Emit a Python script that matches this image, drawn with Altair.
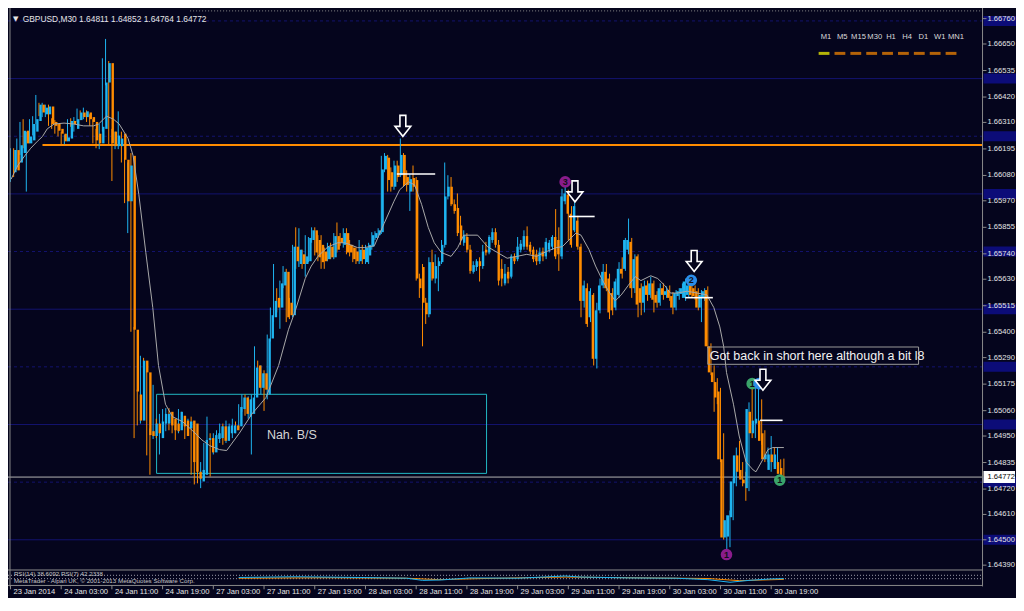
import altair as alt
import pandas as pd

# ---------------- chart values ----------------
opens = [
    1.66094, 1.66190, 1.66136, 1.66177, 1.66274, 1.66219, 1.66232, 1.66270, 1.66316, 1.66387,
    1.66345, 1.66345, 1.66379, 1.66312, 1.66303, 1.66282, 1.66261, 1.66228, 1.66240, 1.66316,
    1.66282, 1.66320, 1.66353, 1.66333, 1.66353, 1.66333, 1.66312, 1.66261, 1.66219, 1.66282,
    1.66483, 1.66567, 1.66270, 1.66207, 1.66207, 1.66261, 1.66148, 1.65968, 1.66165, 1.65411,
    1.65130, 1.65017, 1.65277, 1.65226, 1.64971, 1.64950, 1.65004, 1.64941, 1.65004, 1.65004,
    1.65055, 1.65025, 1.65004, 1.64975, 1.65038, 1.65017, 1.64983, 1.65017, 1.65004, 1.64795,
    1.64753, 1.64782, 1.64933, 1.64941, 1.64879, 1.64937, 1.64941, 1.64992, 1.64929, 1.64962,
    1.64962, 1.64996, 1.64992, 1.65067, 1.65117, 1.65034, 1.65046, 1.65117, 1.65256, 1.65159,
    1.65222, 1.65130, 1.65373, 1.65465, 1.65549, 1.65507, 1.65603, 1.65662, 1.65528, 1.65474,
    1.65771, 1.65696, 1.65738, 1.65696, 1.65708, 1.65800, 1.65842, 1.65800, 1.65779, 1.65750,
    1.65717, 1.65771, 1.65725, 1.65817, 1.65809, 1.65779, 1.65830, 1.65779, 1.65767, 1.65750,
    1.65708, 1.65758, 1.65704, 1.65733, 1.65771, 1.65809, 1.65821, 1.65834, 1.66106, 1.66157,
    1.66094, 1.66031, 1.66123, 1.66081, 1.66169, 1.66073, 1.66010, 1.66069, 1.66060, 1.65633,
    1.65683, 1.65528, 1.65478, 1.65704, 1.65633, 1.65687, 1.65704, 1.65779, 1.65989, 1.66031,
    1.65955, 1.65939, 1.65863, 1.65788, 1.65813, 1.65758, 1.65662, 1.65683, 1.65708, 1.65687,
    1.65758, 1.65746, 1.65800, 1.65834, 1.65779, 1.65675, 1.65612, 1.65662, 1.65641, 1.65729,
    1.65717, 1.65758, 1.65771, 1.65817, 1.65779, 1.65758, 1.65738, 1.65708, 1.65750, 1.65729,
    1.65758, 1.65771, 1.65813, 1.65800, 1.65729, 1.65968, 1.65997, 1.65914, 1.65842, 1.65884,
    1.65771, 1.65536, 1.65591, 1.65465, 1.65562, 1.65285, 1.65495, 1.65603, 1.65662, 1.65633,
    1.65570, 1.65507, 1.65562, 1.65675, 1.65675, 1.65758, 1.65792, 1.65591, 1.65729, 1.65591,
    1.65528, 1.65603, 1.65562, 1.65612, 1.65562, 1.65528, 1.65591, 1.65562, 1.65583, 1.65557,
    1.65507, 1.65557, 1.65566, 1.65549, 1.65562, 1.65612, 1.65591, 1.65578, 1.65507, 1.65549,
    1.65583, 1.65339, 1.65226, 1.65184, 1.65143, 1.64849, 1.64510, 1.64514, 1.64598, 1.64745,
    1.64866, 1.64803, 1.64761, 1.64724, 1.65055, 1.64962, 1.65004, 1.65017, 1.64962, 1.64849,
    1.64803, 1.64870, 1.64807, 1.64837, 1.64811,
]
highs = [
    1.66198, 1.66198, 1.66240, 1.66312, 1.66324, 1.66270, 1.66324, 1.66337, 1.66429, 1.66395,
    1.66395, 1.66387, 1.66387, 1.66328, 1.66320, 1.66303, 1.66270, 1.66257, 1.66324, 1.66328,
    1.66333, 1.66370, 1.66362, 1.66374, 1.66362, 1.66345, 1.66324, 1.66282, 1.66303, 1.66588,
    1.66672, 1.66576, 1.66282, 1.66270, 1.66358, 1.66270, 1.66157, 1.66136, 1.66177, 1.65423,
    1.65151, 1.65298, 1.65289, 1.65235, 1.64983, 1.65172, 1.65025, 1.65046, 1.65067, 1.65071,
    1.65071, 1.65046, 1.65013, 1.65067, 1.65055, 1.65029, 1.65025, 1.65034, 1.65013, 1.64812,
    1.64837, 1.64920, 1.65034, 1.64962, 1.64962, 1.64975, 1.65004, 1.65004, 1.65017, 1.65004,
    1.65025, 1.65013, 1.65088, 1.65130, 1.65130, 1.65122, 1.65130, 1.65339, 1.65277, 1.65256,
    1.65235, 1.65390, 1.65507, 1.65696, 1.65591, 1.65624, 1.65687, 1.65675, 1.65549, 1.65779,
    1.65855, 1.65851, 1.65758, 1.65821, 1.65813, 1.65855, 1.65855, 1.65821, 1.65821, 1.65767,
    1.65788, 1.65788, 1.65830, 1.65876, 1.65830, 1.65851, 1.65851, 1.65800, 1.65779, 1.65767,
    1.65800, 1.65779, 1.65779, 1.65788, 1.65834, 1.65838, 1.65851, 1.66165, 1.66177, 1.66169,
    1.66115, 1.66144, 1.66144, 1.66240, 1.66177, 1.66102, 1.66085, 1.66123, 1.66073, 1.65654,
    1.65696, 1.65549, 1.65725, 1.65758, 1.65738, 1.65725, 1.65800, 1.66136, 1.66081, 1.66073,
    1.65976, 1.66002, 1.65905, 1.65842, 1.65830, 1.65779, 1.65708, 1.65717, 1.65725, 1.65779,
    1.65792, 1.65821, 1.65851, 1.65851, 1.65800, 1.65717, 1.65696, 1.65683, 1.65738, 1.65742,
    1.65813, 1.65800, 1.65842, 1.65859, 1.65792, 1.65771, 1.65758, 1.65767, 1.65767, 1.65809,
    1.65800, 1.65821, 1.65934, 1.65855, 1.66022, 1.66031, 1.66018, 1.65947, 1.65976, 1.65905,
    1.65784, 1.65624, 1.65612, 1.65591, 1.65570, 1.65528, 1.65633, 1.65696, 1.65696, 1.65654,
    1.65591, 1.65633, 1.65704, 1.65725, 1.65809, 1.65893, 1.65809, 1.65738, 1.65738, 1.65612,
    1.65624, 1.65624, 1.65641, 1.65624, 1.65578, 1.65612, 1.65612, 1.65599, 1.65603, 1.65574,
    1.65583, 1.65591, 1.65612, 1.65633, 1.65633, 1.65633, 1.65603, 1.65591, 1.65583, 1.65591,
    1.65599, 1.65352, 1.65256, 1.65201, 1.65159, 1.64962, 1.64606, 1.64627, 1.64765, 1.64900,
    1.64929, 1.64837, 1.64795, 1.65096, 1.65172, 1.65172, 1.65164, 1.65109, 1.64975, 1.64900,
    1.64950, 1.64900, 1.64900, 1.64849, 1.64852,
]
lows = [
    1.66052, 1.66073, 1.66115, 1.66169, 1.66198, 1.66010, 1.66219, 1.66253, 1.66303, 1.66337,
    1.66333, 1.66333, 1.66295, 1.66282, 1.66261, 1.66249, 1.66215, 1.66215, 1.66228, 1.66291,
    1.66270, 1.66312, 1.66320, 1.66324, 1.66312, 1.66295, 1.66219, 1.66198, 1.66194, 1.66270,
    1.66471, 1.66211, 1.66056, 1.66194, 1.66194, 1.66136, 1.65960, 1.65830, 1.65402, 1.64941,
    1.64996, 1.65004, 1.65214, 1.64866, 1.64782, 1.64937, 1.64941, 1.64870, 1.64983, 1.64971,
    1.64975, 1.64962, 1.64933, 1.64962, 1.64979, 1.64937, 1.64971, 1.64782, 1.64740, 1.64745,
    1.64724, 1.64774, 1.64900, 1.64774, 1.64870, 1.64929, 1.64920, 1.64912, 1.64920, 1.64941,
    1.64941, 1.64962, 1.64983, 1.65055, 1.65038, 1.65025, 1.64870, 1.65109, 1.65130, 1.65130,
    1.65059, 1.65109, 1.65360, 1.65444, 1.65486, 1.65415, 1.65591, 1.65444, 1.65457, 1.65465,
    1.65675, 1.65683, 1.65675, 1.65641, 1.65704, 1.65788, 1.65733, 1.65708, 1.65675, 1.65675,
    1.65708, 1.65717, 1.65717, 1.65746, 1.65775, 1.65767, 1.65738, 1.65729, 1.65704, 1.65696,
    1.65696, 1.65696, 1.65696, 1.65696, 1.65758, 1.65800, 1.65809, 1.65826, 1.66094, 1.66010,
    1.66010, 1.66018, 1.66052, 1.66073, 1.66031, 1.66010, 1.65926, 1.66010, 1.65624, 1.65549,
    1.65339, 1.65436, 1.65465, 1.65624, 1.65612, 1.65578, 1.65696, 1.65767, 1.65976, 1.65947,
    1.65914, 1.65817, 1.65779, 1.65775, 1.65746, 1.65654, 1.65654, 1.65666, 1.65620, 1.65675,
    1.65733, 1.65738, 1.65788, 1.65767, 1.65603, 1.65599, 1.65603, 1.65612, 1.65633, 1.65696,
    1.65708, 1.65746, 1.65758, 1.65758, 1.65738, 1.65704, 1.65691, 1.65696, 1.65708, 1.65717,
    1.65746, 1.65758, 1.65717, 1.65666, 1.65717, 1.65955, 1.65800, 1.65767, 1.65834, 1.65758,
    1.65465, 1.65507, 1.65423, 1.65444, 1.65256, 1.65243, 1.65482, 1.65591, 1.65578, 1.65457,
    1.65474, 1.65495, 1.65549, 1.65633, 1.65666, 1.65738, 1.65549, 1.65570, 1.65465, 1.65474,
    1.65486, 1.65536, 1.65549, 1.65486, 1.65507, 1.65515, 1.65541, 1.65549, 1.65536, 1.65478,
    1.65495, 1.65541, 1.65549, 1.65536, 1.65549, 1.65549, 1.65541, 1.65495, 1.65444, 1.65536,
    1.65331, 1.65214, 1.65055, 1.65088, 1.64837, 1.64501, 1.64447, 1.64468, 1.64585, 1.64732,
    1.64774, 1.64732, 1.64669, 1.64711, 1.64941, 1.64941, 1.64962, 1.64912, 1.64837, 1.64837,
    1.64795, 1.64816, 1.64795, 1.64765, 1.64764,
]
closes = [
    1.66190, 1.66102, 1.66211, 1.66274, 1.66219, 1.66249, 1.66303, 1.66324, 1.66387, 1.66353,
    1.66374, 1.66379, 1.66303, 1.66295, 1.66274, 1.66261, 1.66228, 1.66245, 1.66316, 1.66303,
    1.66324, 1.66353, 1.66333, 1.66358, 1.66324, 1.66312, 1.66232, 1.66219, 1.66291, 1.66483,
    1.66567, 1.66219, 1.66207, 1.66253, 1.66240, 1.66148, 1.65968, 1.66123, 1.65411, 1.65143,
    1.65017, 1.65277, 1.65226, 1.64954, 1.64950, 1.65004, 1.64962, 1.65013, 1.65046, 1.65046,
    1.64996, 1.64975, 1.64971, 1.65055, 1.64992, 1.64950, 1.65013, 1.64837, 1.64795, 1.64765,
    1.64803, 1.64933, 1.64941, 1.64879, 1.64954, 1.64962, 1.64992, 1.64929, 1.64992, 1.64996,
    1.64996, 1.64975, 1.65076, 1.65117, 1.65046, 1.65109, 1.65117, 1.65247, 1.65159, 1.65222,
    1.65151, 1.65373, 1.65474, 1.65536, 1.65507, 1.65612, 1.65662, 1.65465, 1.65474, 1.65771,
    1.65708, 1.65758, 1.65696, 1.65729, 1.65809, 1.65842, 1.65746, 1.65725, 1.65704, 1.65708,
    1.65771, 1.65725, 1.65817, 1.65758, 1.65788, 1.65830, 1.65746, 1.65746, 1.65717, 1.65708,
    1.65758, 1.65717, 1.65767, 1.65779, 1.65821, 1.65830, 1.65842, 1.66106, 1.66165, 1.66060,
    1.66031, 1.66123, 1.66073, 1.66169, 1.66039, 1.66039, 1.66064, 1.66031, 1.65633, 1.65591,
    1.65528, 1.65478, 1.65704, 1.65633, 1.65687, 1.65708, 1.65779, 1.65989, 1.66031, 1.65955,
    1.65926, 1.65830, 1.65800, 1.65821, 1.65758, 1.65666, 1.65691, 1.65708, 1.65687, 1.65750,
    1.65746, 1.65813, 1.65834, 1.65779, 1.65624, 1.65633, 1.65654, 1.65633, 1.65729, 1.65708,
    1.65771, 1.65784, 1.65817, 1.65771, 1.65750, 1.65717, 1.65708, 1.65746, 1.65729, 1.65792,
    1.65788, 1.65813, 1.65729, 1.65738, 1.65989, 1.66002, 1.65914, 1.65779, 1.65947, 1.65771,
    1.65536, 1.65603, 1.65436, 1.65578, 1.65285, 1.65495, 1.65603, 1.65662, 1.65591, 1.65486,
    1.65495, 1.65620, 1.65675, 1.65654, 1.65800, 1.65800, 1.65591, 1.65717, 1.65520, 1.65528,
    1.65599, 1.65562, 1.65612, 1.65541, 1.65528, 1.65591, 1.65562, 1.65578, 1.65549, 1.65507,
    1.65570, 1.65578, 1.65591, 1.65620, 1.65603, 1.65562, 1.65557, 1.65507, 1.65562, 1.65578,
    1.65339, 1.65226, 1.65184, 1.65117, 1.64849, 1.64510, 1.64585, 1.64606, 1.64753, 1.64866,
    1.64795, 1.64761, 1.64745, 1.65067, 1.64962, 1.65017, 1.65025, 1.64929, 1.64849, 1.64870,
    1.64870, 1.64837, 1.64870, 1.64786, 1.64772,
]

# moving average line (bar index, price)
ma_idx = [0.2, 2.3, 4.5, 6.4, 8.5, 10.1, 11.6, 13.8, 16.9, 20.0, 23.1, 26.2, 27.8, 30.3, 32.5,
          34.3, 37.1, 38.7, 40.5, 42.7, 44.9, 46.7, 48.9, 51.1, 54.2, 57.3, 60.4, 62.9, 66.0,
          68.2, 72.2, 76.2, 80.6, 84.6, 87.7, 89.9, 93.0, 94.9, 97.0, 100.2, 103.3, 105.4, 107.3,
          109.5, 111.6, 114.8, 117.9, 121.0, 122.8, 125.6, 127.5, 129.7, 131.8, 133.7, 135.9,
          139.0, 141.1, 143.0, 147.4, 150.5, 153.6, 156.7, 159.8, 162.9, 166.0, 169.1, 172.2,
          174.1, 176.2, 178.4, 180.0, 182.5, 184.6, 186.5, 188.7, 190.8, 192.7, 194.9, 197.1,
          198.9, 202.0, 204.2, 206.4, 208.2, 210.4, 213.5, 216.6, 219.7, 221.9, 223.8, 225.0,
          225.9, 228.1, 229.9, 232.1, 234.3, 235.2, 237.4, 239.0, 240.5, 244.0]
ma_val = [1.66064, 1.66123, 1.66165, 1.66198, 1.66228, 1.66249, 1.66282, 1.66303, 1.66307,
          1.66303, 1.66295, 1.66295, 1.66303, 1.66337, 1.66324, 1.66303, 1.66240, 1.66165,
          1.65997, 1.65746, 1.65507, 1.65256, 1.65088, 1.65034, 1.65013, 1.64975, 1.64933,
          1.64908, 1.64891, 1.64887, 1.64962, 1.65046, 1.65117, 1.65256, 1.65411, 1.65495,
          1.65633, 1.65687, 1.65729, 1.65771, 1.65788, 1.65788, 1.65779, 1.65767, 1.65767,
          1.65775, 1.65872, 1.65968, 1.66018, 1.66052, 1.66039, 1.65955, 1.65855, 1.65788,
          1.65746, 1.65729, 1.65767, 1.65821, 1.65821, 1.65771, 1.65746, 1.65721, 1.65729,
          1.65738, 1.65729, 1.65750, 1.65767, 1.65771, 1.65800, 1.65830, 1.65821, 1.65759,
          1.65687, 1.65633, 1.65578, 1.65536, 1.65562, 1.65603, 1.65641, 1.65624, 1.65645,
          1.65633, 1.65603, 1.65570, 1.65570, 1.65578, 1.65570, 1.65562, 1.65507, 1.65423,
          1.65339, 1.65226, 1.65088, 1.64950, 1.64837, 1.64803, 1.64795, 1.64849, 1.64891,
          1.64900, 1.64900]

price_ticks = [1.66760, 1.66650, 1.66535, 1.66420, 1.66310, 1.66195, 1.66080, 1.65970,
               1.65855, 1.65740, 1.65630, 1.65515, 1.65400, 1.65290, 1.65175, 1.65060,
               1.64950, 1.64835, 1.64720, 1.64610, 1.64500, 1.64390]
time_labels = ["23 Jan 2014", "24 Jan 03:00", "24 Jan 11:00", "24 Jan 19:00", "27 Jan 03:00",
               "27 Jan 11:00", "27 Jan 19:00", "28 Jan 03:00", "28 Jan 11:00", "28 Jan 19:00",
               "29 Jan 03:00", "29 Jan 11:00", "29 Jan 19:00", "30 Jan 03:00", "30 Jan 11:00",
               "30 Jan 19:00"]
time_pos = [0, 16, 32, 48, 64, 80, 96, 112, 128, 144, 160, 176, 192, 208, 224, 240]

grid_major = [1.645, 1.650, 1.655, 1.660, 1.665]
grid_minor = [1.6475, 1.6525, 1.6575, 1.6625, 1.6675]
level_marks = [1.645, 1.6475, 1.650, 1.6525, 1.655, 1.6575, 1.660, 1.6625, 1.665, 1.6675]

resistance_price = 1.66212
resistance_start = 10.1
last_price = 1.64772
bar_open_last, bar_high_last, bar_low_last = 1.64811, 1.64852, 1.64764

box_i = [46.1, 150.2]
box_p = [1.64788, 1.65131]

entry_i1 = [121.9, 176.2, 212.9, 236.5]
entry_i2 = [134.0, 184.3, 221.6, 243.6]
entry_p = [1.66086, 1.65902, 1.65550, 1.65018]

arrow_i = [123.8, 178.1, 215.7, 237.4]
arrow_p = [1.66295, 1.66011, 1.65709, 1.65194]

dot_i = [175.0, 214.8, 234.0, 236.2, 225.9, 242.7]
dot_p = [1.66052, 1.65625, 1.65177, 1.65177, 1.64436, 1.64759]
dot_c = ["#8a1c8c", "#2b8de8", "#3aa36a", "#2b8de8", "#8a1c8c", "#3aa36a"]
dot_t = ["3", "2", "1", "", "1", "1"]

note_i, note_p = 80.9, 1.64955
note2_i, note2_p = 220.6, 1.65299
note2_box_i = [220.0, 286.5]
note2_box_p = [1.65261, 1.65336]

ind_fast_i = [72, 90, 110, 125, 130, 136, 145, 160, 175, 180, 195, 210, 220, 227, 233, 240, 244]
ind_fast_v = [55, 60, 55, 50, 35, 38, 52, 50, 65, 58, 52, 50, 40, 22, 35, 45, 47]
ind_slow_i = [72, 100, 125, 135, 150, 175, 200, 220, 230, 244]
ind_slow_v = [50, 53, 50, 40, 48, 58, 52, 48, 33, 42]

tf_labels = ["M1", "M5", "M15", "M30", "H1", "H4", "D1", "W1", "MN1"]

# ---------------- layout ----------------
W, H = 1008, 590
RW, RH = 1024, 611


def sx(v):
    return v * W / RW


def sy(v):
    return v * H / RH


BG = "#05051d"
BULL = "#1eb4f0"
BEAR = "#ff8c00"
FONT = "Liberation Sans"
AX = "#8a8a8a"
AXFS = 7.6

X_DOM = [-2.5 / 3.22, (RW - 2.5) / 3.22]
Y_DOM = [1.642476, 1.668061]
xs = alt.Scale(domain=X_DOM, nice=False, zero=False)
ys = alt.Scale(domain=Y_DOM, nice=False, zero=False)
ind_scale = alt.Scale(domain=[-86.67, 3986.67], nice=False, zero=False)


def X(f):
    return alt.X(f, type="quantitative", scale=xs, axis=None)


def Y(f):
    return alt.Y(f, type="quantitative", scale=ys, axis=None)


bars = pd.DataFrame({"i": list(range(len(closes))), "o": opens, "h": highs,
                     "l": lows, "c": closes})
bars["dir"] = ["up" if c >= o else "down" for o, c in zip(opens, closes)]
dir_color = alt.Color("dir:N", scale=alt.Scale(domain=["up", "down"], range=[BULL, BEAR]),
                      legend=None)

layers = []

# grid / level lines
layers.append(alt.Chart(pd.DataFrame({"p": grid_major})).mark_rule(
    color="#13136e", strokeWidth=1).encode(y=Y("p"), x=alt.value(0), x2=alt.value(sx(990))))
layers.append(alt.Chart(pd.DataFrame({"p": grid_minor})).mark_rule(
    color="#13136e", strokeWidth=1, strokeDash=[3, 3]).encode(
    y=Y("p"), x=alt.value(0), x2=alt.value(sx(990))))
# level labels on the price scale
layers.append(alt.Chart(pd.DataFrame({"p": level_marks})).mark_rule(
    color="#0c0c78", strokeWidth=10, strokeCap="butt").encode(
    y=Y("p"), x=alt.value(sx(991)), x2=alt.value(sx(1024))))

# cyan zone
zone = pd.DataFrame({"i1": [box_i[0]], "i2": [box_i[1]], "p1": [box_p[0]], "p2": [box_p[1]]})
layers.append(alt.Chart(zone).mark_rect(fillOpacity=0, stroke="#22b8c4", strokeWidth=1).encode(
    x=X("i1"), x2="i2", y=Y("p1"), y2="p2"))

# current price line
layers.append(alt.Chart(pd.DataFrame({"p": [last_price]})).mark_rule(
    color="#b4b4b4", strokeWidth=1).encode(y=Y("p"), x=alt.value(0), x2=alt.value(sx(990))))

# resistance line
res = pd.DataFrame({"i": [resistance_start], "p": [resistance_price]})
layers.append(alt.Chart(res).mark_rule(color=BEAR, strokeWidth=2).encode(
    x=X("i"), x2=alt.value(sx(990)), y=Y("p")))

# candles
layers.append(alt.Chart(bars).mark_rule(strokeWidth=1).encode(
    x=X("i"), y=Y("l"), y2="h", color=dir_color))
layers.append(alt.Chart(bars).mark_bar(size=2.4).encode(
    x=X("i"), y=Y("o"), y2="c", color=dir_color))

# moving average
layers.append(alt.Chart(pd.DataFrame({"i": ma_idx, "p": ma_val})).mark_line(
    color="#a8a8a8", strokeWidth=1).encode(x=X("i"), y=Y("p")))

# entry levels
ent = pd.DataFrame({"i1": entry_i1, "i2": entry_i2, "p": entry_p})
layers.append(alt.Chart(ent).mark_rule(color="#ffffff", strokeWidth=1.6).encode(
    x=X("i1"), x2="i2", y=Y("p")))

# notes
layers.append(alt.Chart(pd.DataFrame({"i": [note_i], "p": [note_p], "t": ["Nah. B/S"]})).mark_text(
    align="left", baseline="middle", font=FONT, fontSize=12.5, color="#d4d4d4").encode(
    x=X("i"), y=Y("p"), text="t:N"))
nb = pd.DataFrame({"i1": [note2_box_i[0]], "i2": [note2_box_i[1]],
                   "p1": [note2_box_p[0]], "p2": [note2_box_p[1]]})
layers.append(alt.Chart(nb).mark_rect(fillOpacity=0, stroke="#9a9a9a", strokeWidth=1).encode(
    x=X("i1"), x2="i2", y=Y("p1"), y2="p2"))
layers.append(alt.Chart(pd.DataFrame({"i": [note2_i], "p": [note2_p],
                                      "t": ["Got back in short here although a bit l8"]})).mark_text(
    align="left", baseline="middle", font=FONT, fontSize=12.5, color="#f2f2f2").encode(
    x=X("i"), y=Y("p"), text="t:N"))

# numbered dots
dots = pd.DataFrame({"i": dot_i, "p": dot_p, "c": dot_c, "t": dot_t})
layers.append(alt.Chart(dots).mark_circle(size=135, opacity=1).encode(
    x=X("i"), y=Y("p"), color=alt.Color("c:N", scale=None)))
layers.append(alt.Chart(dots).mark_text(font=FONT, fontSize=9, fontWeight="bold",
                                         color="#101018", baseline="middle").encode(
    x=X("i"), y=Y("p"), text="t:N"))

# arrows
arrow_path = "M-0.28,-1L0.28,-1L0.28,0.05L0.75,0.05L0,1L-0.75,0.05L-0.28,0.05Z"
layers.append(alt.Chart(pd.DataFrame({"i": arrow_i, "p": arrow_p})).mark_point(
    shape=arrow_path, size=440, filled=True, fill=BG, stroke="#ffffff", strokeWidth=1.6,
    opacity=1).encode(x=X("i"), y=Y("p")))

# frame lines
layers.append(alt.Chart(pd.DataFrame({"a": [0]})).mark_rule(color=AX, strokeWidth=1).encode(
    x=alt.value(sx(990)), y=alt.value(0), y2=alt.value(sy(599))))
layers.append(alt.Chart(pd.DataFrame({"a": [0]})).mark_rule(color=AX, strokeWidth=1).encode(
    x=alt.value(sx(2)), y=alt.value(0), y2=alt.value(sy(599))))
layers.append(alt.Chart(pd.DataFrame({"a": [sy(582), sy(598)]})).mark_rule(
    color=AX, strokeWidth=1).encode(y=alt.Y("a:Q", scale=None), x=alt.value(0),
                                    x2=alt.value(sx(990))))
layers.append(alt.Chart(pd.DataFrame({"a": [0]})).mark_rule(
    color=AX, strokeWidth=1, strokeDash=[1, 2]).encode(
    y=alt.value(sy(3)), x=alt.value(sx(185)), x2=alt.value(sx(990))))

# price scale
pt = pd.DataFrame({"p": price_ticks, "lab": [f"{v:.5f}" for v in price_ticks]})
layers.append(alt.Chart(pt).mark_rule(color=AX, strokeWidth=1).encode(
    y=Y("p"), x=alt.value(sx(990)), x2=alt.value(sx(994))))
layers.append(alt.Chart(pt).mark_text(align="left", baseline="middle", font=FONT,
                                       fontSize=AXFS, color="#e6e6e6").encode(
    x=alt.value(sx(995)), y=Y("p"), text="lab:N"))
layers.append(alt.Chart(pd.DataFrame({"p": [last_price]})).mark_rule(
    color="#ffffff", strokeWidth=12, strokeCap="butt").encode(
    y=Y("p"), x=alt.value(sx(991)), x2=alt.value(sx(1023))))
layers.append(alt.Chart(pd.DataFrame({"p": [last_price], "lab": [f"{last_price:.5f}"]})).mark_text(
    align="left", baseline="middle", font=FONT, fontSize=AXFS, color="#000000").encode(
    x=alt.value(sx(995)), y=Y("p"), text="lab:N"))

# time scale
tl = pd.DataFrame({"i": time_pos, "lab": time_labels})
layers.append(alt.Chart(tl).mark_rule(color=AX, strokeWidth=1).encode(
    x=X("i"), y=alt.value(sy(598)), y2=alt.value(sy(602))))
layers.append(alt.Chart(tl).mark_text(align="left", baseline="middle", dx=3, font=FONT,
                                       fontSize=AXFS, color="#e6e6e6").encode(
    x=X("i"), y=alt.value(sy(604.5)), text="lab:N"))

# indicator sub-window
layers.append(alt.Chart(pd.DataFrame({"a": [sy(587.5), sy(591)]})).mark_rule(
    color="#9a9aa8", strokeWidth=1, strokeDash=[1, 2]).encode(
    y=alt.Y("a:Q", scale=None), x=alt.value(0), x2=alt.value(sx(990))))
layers.append(alt.Chart(pd.DataFrame({"i": ind_slow_i, "v": ind_slow_v})).mark_line(
    color=BEAR, strokeWidth=1).encode(x=X("i"), y=alt.Y("v:Q", scale=ind_scale, axis=None)))
layers.append(alt.Chart(pd.DataFrame({"i": ind_fast_i, "v": ind_fast_v})).mark_line(
    color=BULL, strokeWidth=1).encode(x=X("i"), y=alt.Y("v:Q", scale=ind_scale, axis=None)))
layers.append(alt.Chart(pd.DataFrame({"t": ["RSI(14) 38.6092  RSI(7) 42.2338"]})).mark_text(
    align="left", baseline="middle", font=FONT, fontSize=6.2, color="#c8c8c8").encode(
    x=alt.value(sx(6)), y=alt.value(sy(586.3)), text="t:N"))
layers.append(alt.Chart(pd.DataFrame({"t": ["MetaTrader - Alpari UK, © 2001-2013 MetaQuotes Software Corp."]})).mark_text(
    align="left", baseline="middle", font=FONT, fontSize=6.2, color="#c8c8c8").encode(
    x=alt.value(sx(6)), y=alt.value(sy(593.3)), text="t:N"))

# title
layers.append(alt.Chart(pd.DataFrame({"t": ["▼"]})).mark_text(
    align="left", baseline="middle", font="DejaVu Sans", fontSize=7, color="#e6e6e6").encode(
    x=alt.value(sx(5)), y=alt.value(sy(11)), text="t:N"))
title = f"GBPUSD,M30  {bar_open_last:.5f} {bar_high_last:.5f} {bar_low_last:.5f} {last_price:.5f}"
layers.append(alt.Chart(pd.DataFrame({"t": [title]})).mark_text(
    align="left", baseline="middle", font=FONT, fontSize=8.4, color="#e6e6e6").encode(
    x=alt.value(sx(15)), y=alt.value(sy(11)), text="t:N"))

# timeframe strip
tf = pd.DataFrame({"k": list(range(len(tf_labels))), "lab": tf_labels,
                   "c": ["#ffff00"] + [BEAR] * (len(tf_labels) - 1)})
tf_text_scale = alt.Scale(domain=[0, 8], range=[sx(831), sx(963)])
tf_dash_scale = alt.Scale(domain=[0, 8], range=[sx(829), sx(958)])
layers.append(alt.Chart(tf).mark_text(align="center", baseline="middle", font=FONT,
                                       fontSize=7.6, color="#dcdcdc").encode(
    x=alt.X("k:Q", scale=tf_text_scale, axis=None), y=alt.value(sy(30)), text="lab:N"))
layers.append(alt.Chart(tf).mark_tick(orient="horizontal", thickness=3, size=sx(11)).encode(
    x=alt.X("k:Q", scale=tf_dash_scale, axis=None), y=alt.value(sy(47)),
    color=alt.Color("c:N", scale=None)))

chart = alt.layer(*layers).resolve_scale(y="independent", x="independent", color="independent").properties(
    width=W, height=H, padding=0, background=BG,
    autosize=alt.AutoSizeParams(type="none"),
).configure_view(stroke=None)

chart.save("out.html", embed_options={"renderer": "svg", "actions": False})
